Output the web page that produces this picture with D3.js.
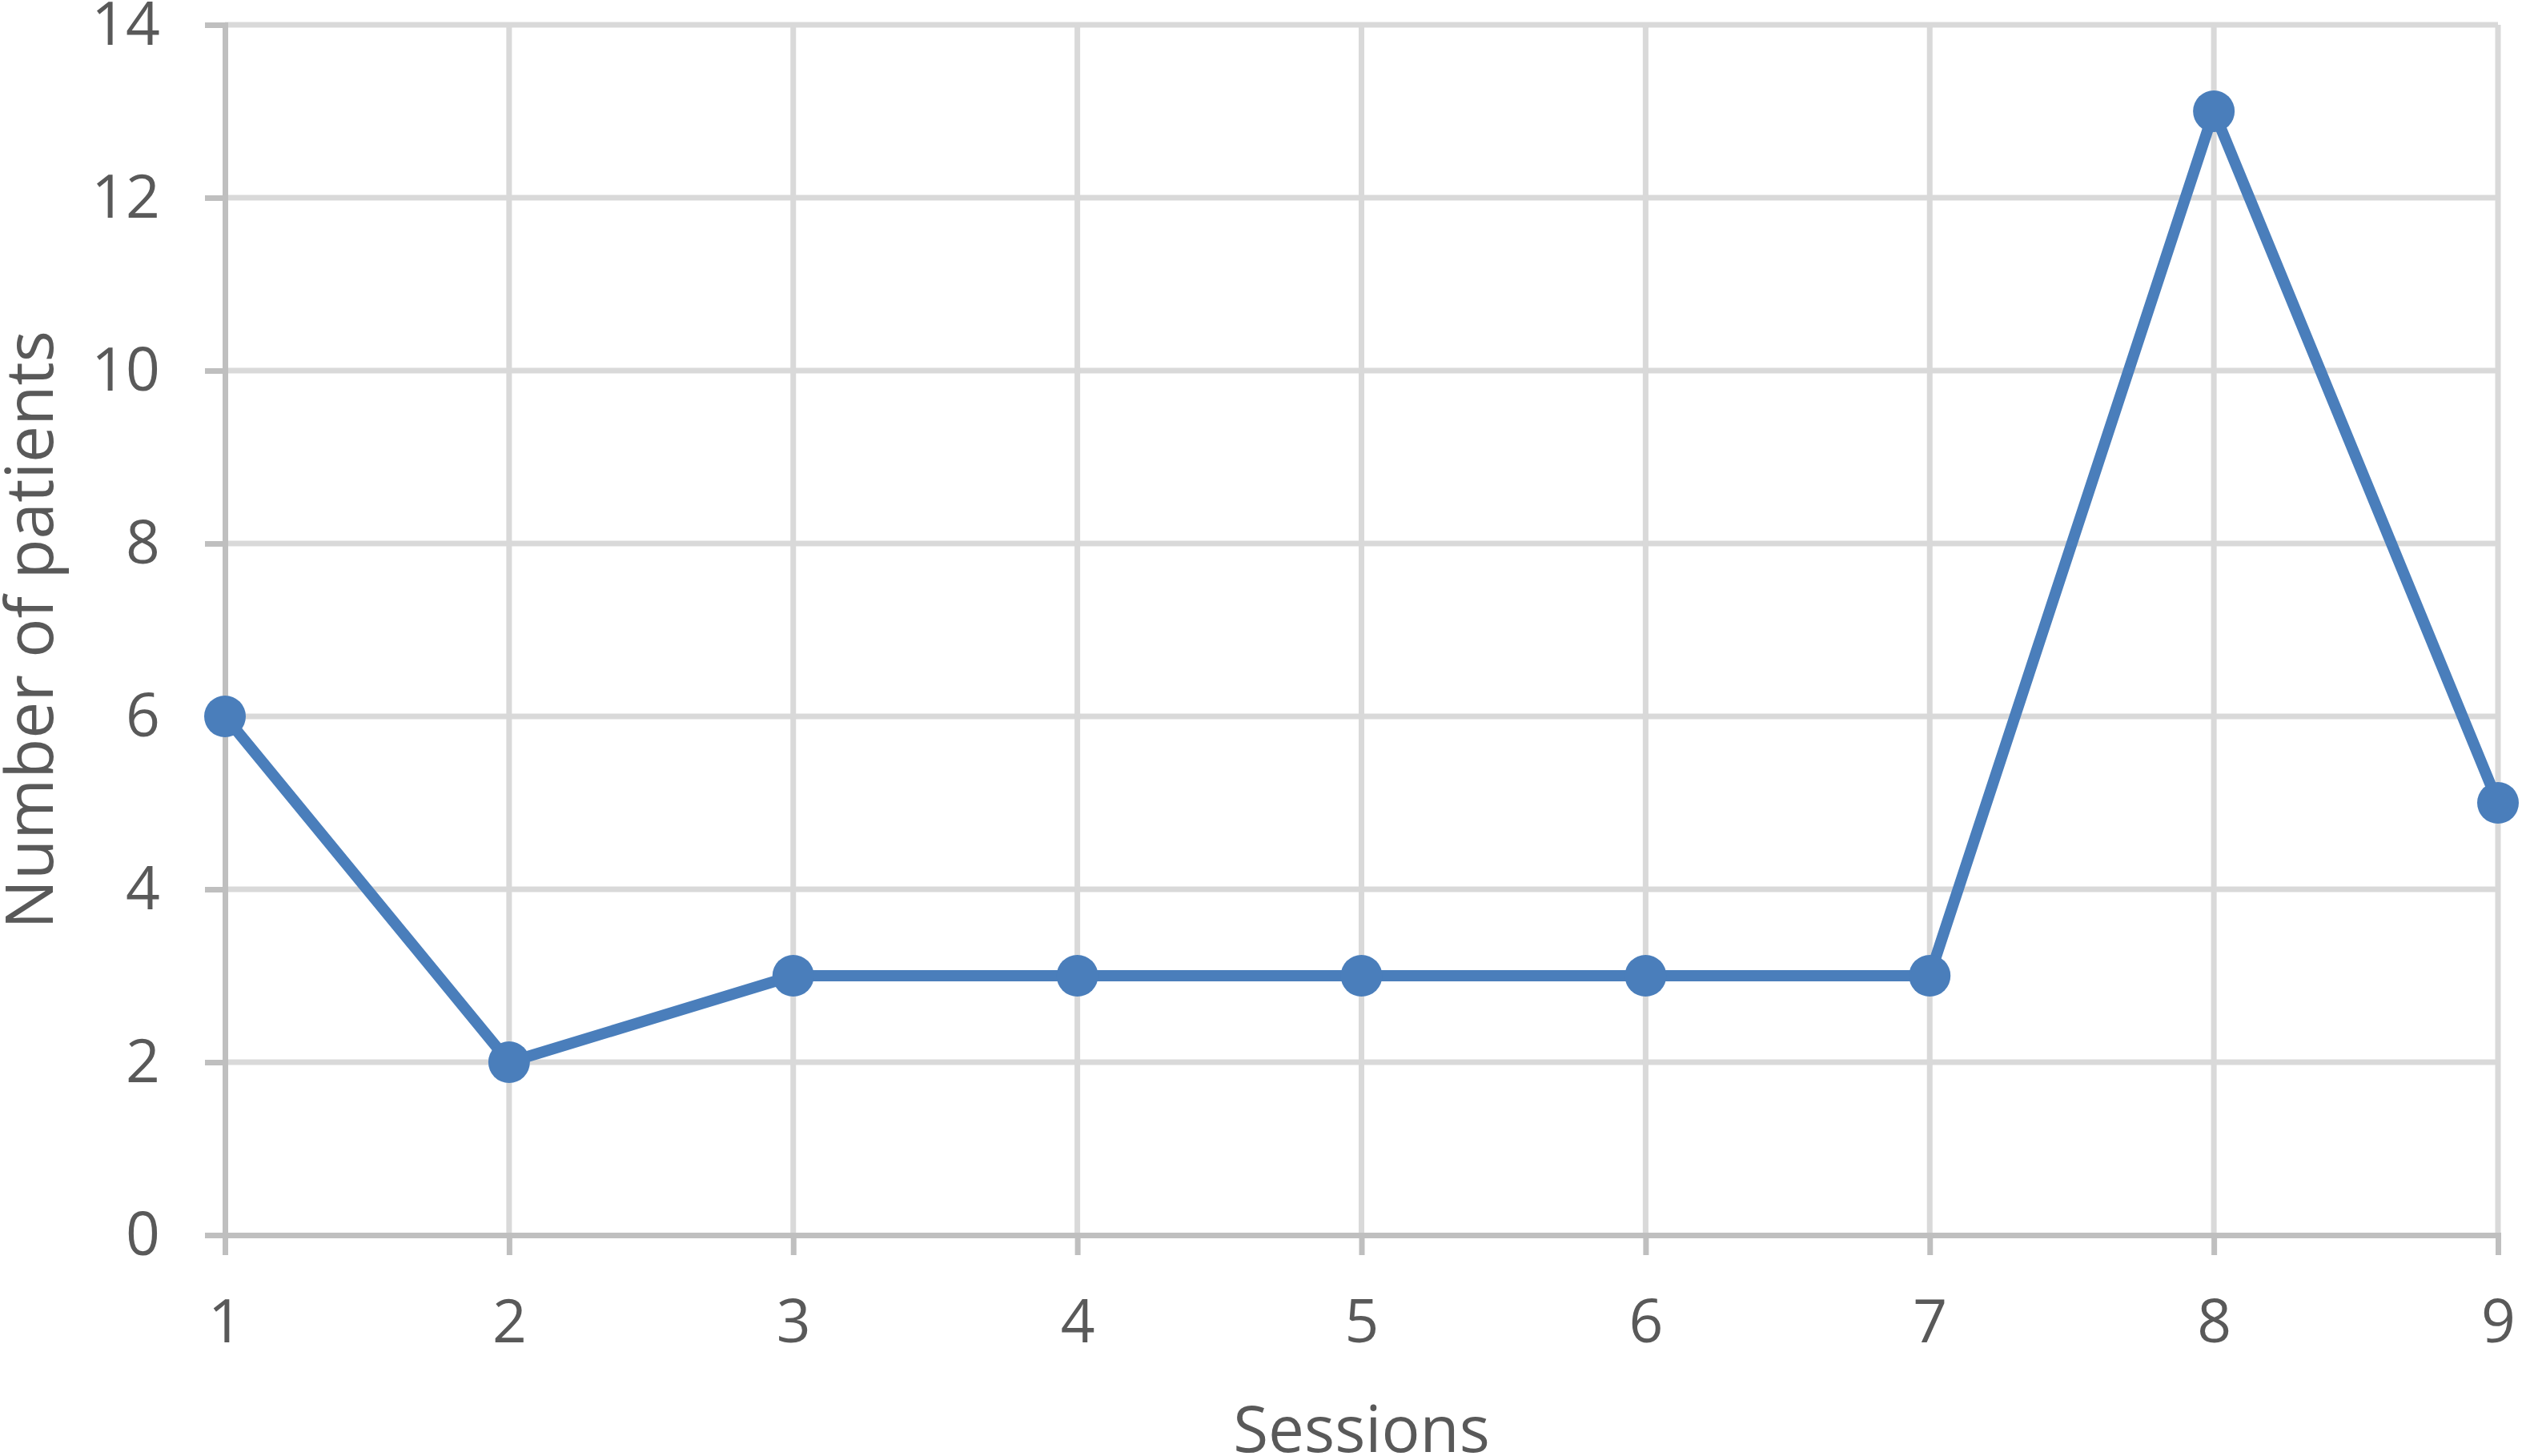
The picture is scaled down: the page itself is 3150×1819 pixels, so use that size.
<!DOCTYPE html>
<html>
<head>
<meta charset="utf-8">
<script src="https://cdn.jsdelivr.net/npm/d3@7"></script>
<style>
html,body{margin:0;padding:0;background:#fff;}
svg{display:block;}
text{font-family:"Open Sans",sans-serif;fill:#595959;}
</style>
</head>
<body>
<script>
const sessions = [1, 2, 3, 4, 5, 6, 7, 8, 9];
const patients = [6, 2, 3, 3, 3, 3, 3, 13, 5];
const yTicks = [0, 2, 4, 6, 8, 10, 12, 14];
const xTitle = "Sessions";
const yTitle = "Number of patients";

const W = 3150, H = 1819;
const svg = d3.select("body").append("svg").attr("width", W).attr("height", H);

const x = d3.scaleLinear().domain([1, 9]).range([281, 3120]);
const y = d3.scaleLinear().domain([0, 14]).range([1543, 31]);

const gridColor = "#d9d9d9", axisColor = "#bfbfbf";

// horizontal gridlines
svg.append("g").selectAll("line").data(yTicks.filter(d => d > 0)).join("line")
  .attr("x1", x(1)).attr("x2", x(9))
  .attr("y1", d => y(d)).attr("y2", d => y(d))
  .attr("stroke", gridColor).attr("stroke-width", 7);
// vertical gridlines
svg.append("g").selectAll("line").data(sessions.filter(d => d > 1)).join("line")
  .attr("x1", d => x(d)).attr("x2", d => x(d))
  .attr("y1", y(14)).attr("y2", y(0))
  .attr("stroke", gridColor).attr("stroke-width", 7);

// y axis
const yAxis = d3.axisLeft(y).tickValues(yTicks).tickSize(25).tickPadding(56).tickFormat(d3.format("d"));
const gy = svg.append("g").attr("transform", `translate(${x(1)},0)`).call(yAxis);
gy.select(".domain").attr("stroke", axisColor).attr("stroke-width", 7);
gy.selectAll(".tick line").attr("stroke", axisColor).attr("stroke-width", 7);
gy.selectAll(".tick text").attr("font-size", 75).attr("fill", "#595959")
  .attr("font-family", '"Open Sans", sans-serif');

// x axis
const xAxis = d3.axisBottom(x).tickValues(sessions).tickSize(25).tickPadding(56).tickFormat(d3.format("d"));
const gx = svg.append("g").attr("transform", `translate(0,${y(0)})`).call(xAxis);
gx.select(".domain").attr("stroke", axisColor).attr("stroke-width", 7);
gx.selectAll(".tick line").attr("stroke", axisColor).attr("stroke-width", 7);
gx.selectAll(".tick text").attr("font-size", 75).attr("fill", "#595959")
  .attr("font-family", '"Open Sans", sans-serif');

// line
const data = sessions.map((s, i) => ({s, v: patients[i]}));
svg.append("path").datum(data)
  .attr("fill", "none").attr("stroke", "#4a7ebb").attr("stroke-width", 14)
  .attr("stroke-linejoin", "round")
  .attr("d", d3.line().x(d => x(d.s)).y(d => y(d.v)));
svg.append("g").selectAll("circle").data(data).join("circle")
  .attr("cx", d => x(d.s)).attr("cy", d => y(d.v)).attr("r", 26)
  .attr("fill", "#4a7ebb");

// titles
svg.append("text").attr("x", (x(1) + x(9)) / 2).attr("y", 1814)
  .attr("text-anchor", "middle").attr("font-size", 80).text(xTitle);
svg.append("text").attr("transform", `translate(66,${(y(0) + y(14)) / 2}) rotate(-90)`)
  .attr("text-anchor", "middle").attr("font-size", 82).text(yTitle);
</script>
</body>
</html>
